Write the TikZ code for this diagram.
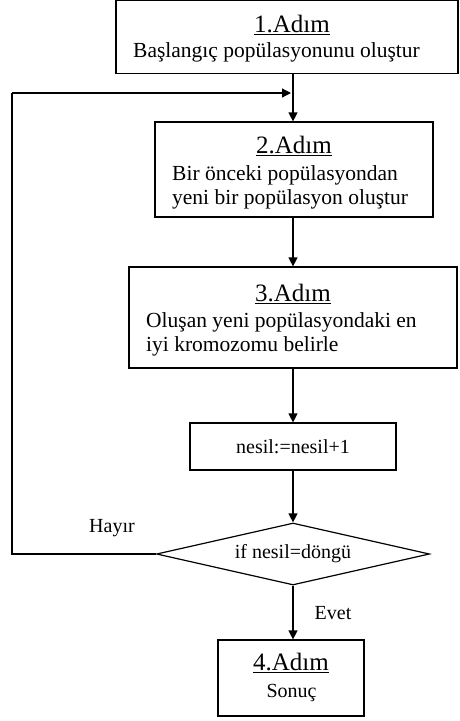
\documentclass[tikz,border=0pt]{standalone}
\usepackage{fontspec}
\setmainfont{Liberation Serif}
\usetikzlibrary{shapes.geometric,arrows.meta}
\begin{document}
\begin{tikzpicture}[x=1pt,y=-1pt,
  box/.style={draw,line width=1.2pt,rectangle,inner sep=0pt},
  dia/.style={draw,line width=1.2pt,diamond,aspect=4.4,inner sep=0pt},
  ttl/.style={anchor=base,inner sep=0pt,font=\fontsize{25}{30}\selectfont},
  body/.style={anchor=base west,inner sep=0pt,font=\fontsize{21.5}{24}\selectfont},
  small/.style={inner sep=0pt,font=\fontsize{20}{24}\selectfont},
  arr/.style={line width=1.2pt,-{Triangle[length=9pt,width=9pt]}},
  ln/.style={line width=1.2pt}]
\useasboundingbox (0,0) rectangle (459,721);
% boxes
\node[box,minimum width=342pt,minimum height=73pt] (b1) at (287,37) {};
\node[box,minimum width=278pt,minimum height=95pt] (b2) at (294,169.5) {};
\node[box,minimum width=328pt,minimum height=101pt] (b3) at (293,317.5) {};
\node[box,minimum width=206pt,minimum height=47pt,small] (b4) at (293,446.5) {nesil:=nesil+1};
\node[dia,minimum width=273pt,minimum height=62pt,small] (d) at (293,554) {if nesil=döngü};
\node[box,minimum width=146pt,minimum height=76pt] (b5) at (291,678) {};
% texts
\node[ttl] (t1) at (292,32) {\underline{1.Adım}};
\node[body] (s1) at (133,57) {Başlangıç popülasyonunu oluştur};
\node[ttl] (t2) at (294,153) {\underline{2.Adım}};
\node[body] (s2a) at (172,180) {Bir önceki popülasyondan};
\node[body] (s2b) at (172,204) {yeni bir popülasyon oluştur};
\node[ttl] (t3) at (293,301) {\underline{3.Adım}};
\node[body] (s3a) at (146,327) {Oluşan yeni popülasyondaki en};
\node[body] (s3b) at (146,351) {iyi kromozomu belirle};
\node[ttl] (t4) at (291,670) {\underline{4.Adım}};
\node[small,anchor=base] (s4) at (291.5,697) {Sonuç};
\node[small,anchor=base] (hay) at (112,532) {Hayır};
\node[small,anchor=base] (evet) at (333,619) {Evet};
% connectors
\coordinate (j) at (293,93);
\coordinate (c1) at (12,554);
\coordinate (c2) at (12,93);
\draw[arr] (b1.south -| j) -- (b2.north -| j);
\draw[arr] (b2.south -| j) -- (b3.north -| j);
\draw[arr] (b3.south -| j) -- (b4.north -| j);
\draw[arr] (b4.south) -- (d.north);
\draw[arr] (d.south) -- (b5.north -| d.south);
\draw[ln] (d.west) -- (c1) -- (c2);
\draw[arr] (c2) -- ([xshift=-2pt]j);
\end{tikzpicture}
\end{document}
